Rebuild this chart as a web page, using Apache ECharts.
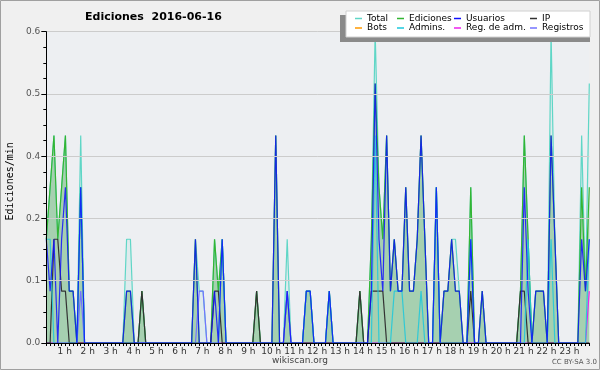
<!DOCTYPE html>
<html><head><meta charset="utf-8">
<script src="https://cdn.jsdelivr.net/npm/echarts@6/dist/echarts.min.js"></script>
<style>html,body{margin:0;padding:0;background:#f0f0f0}#c{width:600px;height:370px}</style>
</head><body><div id="c"></div>
<script>
// Tick labels (one per hour); 10-minute bins, 143 points (00:00 .. 23:40)
const hourLabels = ['0 h','1 h','2 h','3 h','4 h','5 h','6 h','7 h','8 h','9 h','10 h','11 h',
  '12 h','13 h','14 h','15 h','16 h','17 h','18 h','19 h','20 h','21 h','22 h','23 h'];
const yTickLabels = ['0.0','0.1','0.2','0.4','0.5','0.6'];
const seriesNames = ['Total','Ediciones','Usuarios','IP','Bots','Admins.','Reg. de adm.','Registros'];

// values, edits per minute, one row per hour (6 bins of 10 min)
const total = [
 .2,.3,.4,.2,.3,.4,  .1,.1,0,.4,0,0,  0,0,0,0,0,0,  0,0,0,.2,.2,0,
 0,.1,0,0,0,0,  0,0,0,0,0,0,  0,0,0,.2,.1,.1,  0,0,.2,.1,.2,0,
 0,0,0,0,0,0,  0,.1,0,0,0,0,  .4,0,0,.2,0,0,  0,0,.1,.1,0,0,
 0,0,.1,0,0,0,  0,0,0,0,.1,0,  0,.2,.6,.3,.2,.4,  .1,.2,.1,.1,.3,.1,
 .1,.2,.4,.2,0,0,  .3,0,.1,.1,.2,.2,  .1,0,0,.3,0,0,  .1,0,0,0,0,0,
 0,0,0,0,.1,.4,  .2,0,.1,.1,.1,0,  .6,.2,0,0,0,0,  0,0,.4,.1,.5];
const ediciones = [
 .2,.3,.4,.2,.3,.4,  .1,.1,0,.3,0,0,  0,0,0,0,0,0,  0,0,0,.1,.1,0,
 0,.1,0,0,0,0,  0,0,0,0,0,0,  0,0,0,.2,0,0,  0,0,.2,.1,.2,0,
 0,0,0,0,0,0,  0,.1,0,0,0,0,  .4,0,0,.1,0,0,  0,0,.1,.1,0,0,
 0,0,.1,0,0,0,  0,0,0,0,.1,0,  0,.2,.5,.3,.2,.4,  .1,.2,.1,.1,.3,.1,
 .1,.2,.4,.2,0,0,  .3,0,.1,.1,.2,.1,  .1,0,0,.3,0,0,  .1,0,0,0,0,0,
 0,0,0,0,.1,.4,  .2,0,.1,.1,.1,0,  .4,.2,0,0,0,0,  0,0,.3,.1,.3];
const usuarios = [
 .2,.1,.2,0,.2,.3,  .1,.1,0,.3,0,0,  0,0,0,0,0,0,  0,0,0,.1,.1,0,
 0,0,0,0,0,0,  0,0,0,0,0,0,  0,0,0,.2,0,0,  0,0,.1,0,.2,0,
 0,0,0,0,0,0,  0,0,0,0,0,0,  .4,0,0,.1,0,0,  0,0,.1,.1,0,0,
 0,0,.1,0,0,0,  0,0,0,0,0,0,  0,.1,.5,.2,.1,.4,  .1,.2,.1,.1,.3,.1,
 .1,.2,.4,.2,0,0,  .3,0,.1,.1,.2,.1,  .1,0,0,.2,0,0,  .1,0,0,0,0,0,
 0,0,0,0,0,.3,  .1,0,.1,.1,.1,0,  .4,.2,0,0,0,0,  0,0,.2,.1,.2];
const ip = [
 0,0,.2,.2,.1,.1,  0,0,0,0,0,0,  0,0,0,0,0,0,  0,0,0,0,0,0,
 0,.1,0,0,0,0,  0,0,0,0,0,0,  0,0,0,0,0,0,  0,0,.1,.1,0,0,
 0,0,0,0,0,0,  0,.1,0,0,0,0,  0,0,0,0,0,0,  0,0,0,0,0,0,
 0,0,0,0,0,0,  0,0,0,0,.1,0,  0,.1,.1,.1,.1,0,  0,0,0,0,0,0,
 0,0,0,0,0,0,  0,0,0,0,0,0,  0,0,0,.1,0,0,  0,0,0,0,0,0,
 0,0,0,0,.1,.1,  0,0,0,0,0,0,  0,0,0,0,0,0,  0,0,0,0,0];
const bots = [
 0,0,0,0,0,0,  0,0,0,0,0,0,  0,0,0,0,0,0,  0,0,0,0,0,0,
 0,0,0,0,0,0,  0,0,0,0,0,0,  0,0,0,0,0,0,  0,0,0,0,0,0,
 0,0,0,0,0,0,  0,0,0,0,0,0,  0,0,0,0,0,0,  0,0,0,0,0,0,
 0,0,0,0,0,0,  0,0,0,0,0,0,  0,0,0,0,0,0,  0,0,0,0,0,0,
 0,0,0,0,0,0,  0,0,0,0,0,0,  0,0,0,0,0,0,  0,0,0,0,0,0,
 0,0,0,0,0,0,  0,0,0,0,0,0,  0,0,0,0,0,0,  0,0,0,0,0];
const admins = [
 .2,.2,0,0,0,0,  0,0,0,.3,0,0,  0,0,0,0,0,0,  0,0,0,0,0,0,
 0,0,0,0,0,0,  0,0,0,0,0,0,  0,0,0,0,0,0,  0,0,0,0,.2,0,
 0,0,0,0,0,0,  0,0,0,0,0,0,  0,0,0,0,0,0,  0,0,.1,.1,0,0,
 0,0,.1,0,0,0,  0,0,0,0,0,0,  0,0,.4,0,0,0,  0,.1,.1,.1,0,0,
 0,0,.1,0,0,0,  .3,0,0,0,0,0,  0,0,0,.2,0,0,  0,0,0,0,0,0,
 0,0,0,0,0,0,  .2,0,0,0,0,0,  .2,0,0,0,0,0,  0,0,0,0,.2];
const regAdm = [
 0,0,0,0,0,0,  0,0,0,0,0,0,  0,0,0,0,0,0,  0,0,0,0,0,0,
 0,0,0,0,0,0,  0,0,0,0,0,0,  0,0,0,0,0,0,  0,0,0,0,0,0,
 0,0,0,0,0,0,  0,0,0,0,0,0,  0,0,0,0,0,0,  0,0,0,0,0,0,
 0,0,0,0,0,0,  0,0,0,0,0,0,  0,0,0,0,0,0,  0,0,0,0,0,0,
 0,0,0,0,0,0,  0,0,0,0,0,0,  0,0,0,0,0,0,  0,0,0,0,0,0,
 0,0,0,0,0,0,  0,0,0,0,0,0,  0,0,0,0,0,0,  0,0,0,0,.1];
const registros = [
 0,0,0,0,0,0,  0,0,0,.1,0,0,  0,0,0,0,0,0,  0,0,0,0,0,0,
 0,0,0,0,0,0,  0,0,0,0,0,0,  0,0,0,0,.1,.1,  0,0,0,0,0,0,
 0,0,0,0,0,0,  0,0,0,0,0,0,  0,0,0,.1,0,0,  0,0,0,0,0,0,
 0,0,0,0,0,0,  0,0,0,0,0,0,  0,0,0,0,0,0,  0,0,0,0,0,0,
 0,0,0,0,0,0,  0,0,0,0,0,0,  0,0,0,0,0,0,  0,0,0,0,0,0,
 0,0,0,0,0,0,  0,0,0,0,0,0,  0,0,0,0,0,0,  0,0,0,0,0];

const minuteLabels = ['00','10','20','30','40','50'];
const categories = [];
for (let h = 0; h < 24; h++) for (let m = 0; m < 6; m++) {
  if (categories.length < total.length) categories.push(h + ':' + minuteLabels[m]);
}

const colors = {
  'Total': '#5fd6c6', 'Ediciones': '#33b533', 'Usuarios': '#1010ff', 'IP': '#333333',
  'Bots': '#ff9900', 'Admins.': '#1cc8dc', 'Reg. de adm.': '#ee22ee', 'Registros': '#7373ff'
};
const FONT = 'DejaVu Sans';

function lineSeries(name, data, extra) {
  return Object.assign({
    name: name, type: 'line', data: data, symbol: 'none', animation: false,
    itemStyle: { color: colors[name] },
    lineStyle: { color: colors[name], width: 1.2 },
    emphasis: { disabled: true }
  }, extra || {});
}

const legendPos = [
  ['Total', 355, 14], ['Ediciones', 397, 14], ['Usuarios', 454, 14], ['IP', 530, 14],
  ['Bots', 355, 23.5], ['Admins.', 397, 23.5], ['Reg. de adm.', 454, 23.5], ['Registros', 530, 23.5]
];

const chart = echarts.init(document.getElementById('c'), null, { renderer: 'canvas' });
chart.setOption({
  backgroundColor: '#f0f0f0',
  animation: false,
  title: {
    text: 'Ediciones  2016-06-16', left: 80, top: 7,
    textStyle: { fontFamily: FONT, fontSize: 11, fontWeight: 'bold', color: '#000' }
  },
  legend: legendPos.map(p => ({
    data: [p[0]], left: p[1], top: p[2], padding: 0, itemGap: 0,
    icon: 'rect', itemWidth: 7, itemHeight: 1.5, itemStyle: { borderWidth: 0 },
    selectedMode: false, zlevel: 1, z: 10,
    textStyle: { fontFamily: FONT, fontSize: 9, color: '#000' }
  })),
  grid: {
    left: 46.3, right: 10.7, top: 31.7, bottom: 27, show: true,
    containLabel: false, outerBoundsMode: 'none',
    backgroundColor: '#edeff2', borderWidth: 0
  },
  xAxis: {
    type: 'category', data: categories, boundaryGap: false, z: 5,
    axisLine: { lineStyle: { color: '#000', width: 1 } },
    axisTick: { show: true, interval: 0, length: 3, lineStyle: { color: '#000' } },
    axisLabel: {
      interval: (i) => i % 6 === 0 && i > 0,
      formatter: (v, i) => hourLabels[Math.floor(i / 6)],
      fontFamily: FONT, fontSize: 9, color: '#333', margin: 4, padding: [0, 9, 0, 0]
    },
    splitLine: { show: false }
  },
  yAxis: {
    type: 'value', min: 0, max: 0.6, interval: 0.12, z: 5,
    name: 'Ediciones/min', nameLocation: 'middle', nameRotate: 90, nameGap: 31,
    nameTextStyle: { fontFamily: 'DejaVu Sans Mono', fontSize: 10, color: '#000', padding: [0, 0, 0, 12] },
    axisLine: { show: true, lineStyle: { color: '#000', width: 1 } },
    axisTick: { show: true, length: 5, lineStyle: { color: '#000' } },
    minorTick: { show: true, splitNumber: 4, length: 3, lineStyle: { color: '#000' } },
    axisLabel: {
      formatter: (v) => yTickLabels[Math.round(v / 0.12)],
      fontFamily: FONT, fontSize: 9, color: '#555', margin: 6
    },
    splitLine: { show: true, lineStyle: { color: '#cccccc', width: 1 } }
  },
  series: [
    lineSeries('Total', total, { areaStyle: { color: 'rgba(110,214,200,0.16)' }, z: 2 }),
    lineSeries('Ediciones', ediciones, { areaStyle: { color: 'rgba(45,150,45,0.45)' }, z: 2 }),
    lineSeries('Bots', bots, { z: 3 }),
    lineSeries('Reg. de adm.', regAdm, { z: 3 }),
    lineSeries('Registros', registros, { z: 3 }),
    lineSeries('IP', ip, { z: 3 }),
    lineSeries('Admins.', admins, { z: 3, lineStyle: { color: colors['Admins.'], width: 1.2, opacity: 0.85 } }),
    lineSeries('Usuarios', usuarios, { z: 3, lineStyle: { color: colors['Usuarios'], width: 1.2, opacity: 0.85 } })
  ],
  graphic: [
    { type: 'rect', zlevel: 1, z: 1, shape: { x: 340, y: 15, width: 250, height: 27 }, style: { fill: '#8a8a8a' } },
    { type: 'rect', zlevel: 1, z: 2, shape: { x: 346, y: 11, width: 244, height: 26 }, style: { fill: '#ffffff', stroke: '#d0d0d0', lineWidth: 1 } },
    { type: 'text', zlevel: 1, z: 2, style: { text: 'wikiscan.org', x: 300, y: 361, fill: '#444', font: '9px "DejaVu Sans"', textAlign: 'center', textVerticalAlign: 'middle' } },
    { type: 'text', zlevel: 1, z: 2, style: { text: 'CC BY-SA 3.0', x: 597, y: 362.5, fill: '#555', font: '7px "DejaVu Sans"', textAlign: 'right', textVerticalAlign: 'middle' } },
    { type: 'rect', zlevel: 1, z: 2, shape: { x: 0.5, y: 0.5, width: 599, height: 369 }, style: { fill: 'none', stroke: '#a0a0a0', lineWidth: 1 } }
  ]
});
</script>
</body></html>
